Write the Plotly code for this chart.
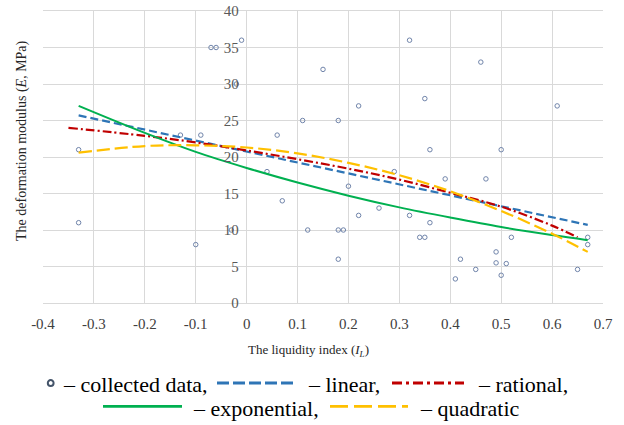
import plotly.graph_objects as go

# ---------------- data ----------------
data_il = [-0.33, -0.33, -0.13, -0.09, -0.10, -0.07, -0.06, -0.01, -0.02, -0.03,
           0.04, 0.06, 0.07, 0.11, 0.12, 0.15, 0.18, 0.18, 0.19, 0.18,
           0.20, 0.22, 0.22, 0.26, 0.29, 0.32, 0.32, 0.34, 0.35, 0.35,
           0.36, 0.36, 0.39, 0.41, 0.42, 0.45, 0.46, 0.47, 0.49, 0.49,
           0.50, 0.50, 0.51, 0.52, 0.61, 0.65, 0.67, 0.67]
data_e = [21, 11, 23, 23, 8, 35, 35, 36, 30, 10,
          18, 23, 14, 25, 10, 32, 25, 10, 10, 6,
          16, 27, 12, 13, 18, 36, 12, 9, 9, 28,
          21, 11, 17, 3.3, 6, 4.6, 33, 17, 7, 5.5,
          3.8, 21, 5.4, 9, 27, 4.6, 9, 8]

lin_x = [-0.33, 0.67]
lin_e = [25.7, 10.7]

rat_x = [-0.35, -0.2, -0.1, 0.0, 0.1, 0.2, 0.3, 0.4, 0.5, 0.6, 0.65]
rat_e = [24.0, 22.9, 22.0, 20.9, 19.7, 18.4, 16.9, 15.1, 13.2, 10.6, 9.0]

exp_x = [-0.33, -0.2, -0.1, 0.0, 0.1, 0.2, 0.3, 0.4, 0.5, 0.6, 0.67]
exp_e = [27.0, 23.3, 20.7, 18.5, 16.5, 14.7, 13.1, 11.7, 10.4, 9.3, 8.6]

quad_x = [-0.33, -0.2, -0.1, 0.0, 0.1, 0.2, 0.3, 0.4, 0.5, 0.6, 0.67]
quad_e = [20.6, 21.5, 21.6, 21.3, 20.5, 19.2, 17.5, 15.3, 12.6, 9.5, 7.0]

x_ticks = [-0.4, -0.3, -0.2, -0.1, 0.0, 0.1, 0.2, 0.3, 0.4, 0.5, 0.6, 0.7]
x_tick_text = ["-0.4", "-0.3", "-0.2", "-0.1", "0", "0.1", "0.2", "0.3", "0.4", "0.5", "0.6", "0.7"]
y_ticks = [0, 5, 10, 15, 20, 25, 30, 35, 40]

# ---------------- styles ----------------
BLUE = "#2E75B6"
RED = "#C00000"
GREEN = "#00B050"
YELLOW = "#FFC000"
MARK = "#7084AA"
GRID = "#D9D9D9"
SERIF = "Liberation Serif"

W, H = 624, 425
L, R, T, B = 43, 21, 11, 122
PW, PH = W - L - R, H - T - B


def px(x):
    return (x - L) / PW


def py(y):
    return (H - B - y) / PH


fig = go.Figure()
fig.add_trace(go.Scatter(x=data_il, y=data_e, mode="markers", name="collected data",
                         marker=dict(symbol="circle-open", size=4.5, color=MARK,
                                     line=dict(width=1, color=MARK))))
fig.add_trace(go.Scatter(x=lin_x, y=lin_e, mode="lines", name="linear",
                         line=dict(color=BLUE, width=2.2, dash="8px,4px")))
fig.add_trace(go.Scatter(x=rat_x, y=rat_e, mode="lines", name="rational",
                         line=dict(color=RED, width=2.2, dash="9px,3px,2px,3px",
                                   shape="spline", smoothing=1.0)))
fig.add_trace(go.Scatter(x=exp_x, y=exp_e, mode="lines", name="exponential",
                         line=dict(color=GREEN, width=2, shape="spline", smoothing=1.0)))
fig.add_trace(go.Scatter(x=quad_x, y=quad_e, mode="lines", name="quadratic",
                         line=dict(color=YELLOW, width=2.2, dash="13px,5px",
                                   shape="spline", smoothing=1.0)))

shapes = []
annotations = []

# axis titles
annotations.append(dict(xref="paper", yref="paper", x=px(308), y=py(350),
                        text="The liquidity index (<i>I</i><sub><i>L</i></sub>)",
                        showarrow=False, xanchor="center", yanchor="middle",
                        font=dict(family=SERIF, size=13, color="#262626")))
annotations.append(dict(xref="paper", yref="paper", x=px(22), y=py(141),
                        text="The deformation modulus (<i>E</i>, MPa)", textangle=-90,
                        showarrow=False, xanchor="center", yanchor="middle",
                        font=dict(family=SERIF, size=14, color="#262626")))

# manual legend
r1, r2 = 383, 406.3
shapes.append(dict(type="circle", xref="paper", yref="paper",
                   x0=px(47.8), x1=px(53.6), y0=py(r1 + 2.9), y1=py(r1 - 2.9),
                   line=dict(color="#44546A", width=2)))
leg_lines = [
    (217, 296, r1, BLUE, "12px,4px"),
    (392, 464, r1, RED, "10px,4px,3px,4px"),
    (103, 182, r2, GREEN, "solid"),
    (330, 408, r2, YELLOW, "18px,6px"),
]
for x0, x1, yy, col, dash in leg_lines:
    shapes.append(dict(type="line", xref="paper", yref="paper",
                       x0=px(x0), x1=px(x1), y0=py(yy), y1=py(yy),
                       line=dict(color=col, width=2.8, dash=dash)))
leg_texts = [
    (61, r1 + 1.5, "– collected data,"),
    (306, r1 + 1.5, "– linear,"),
    (476, r1 + 1.5, "– rational,"),
    (191, r2 + 2.2, "– exponential,"),
    (418, r2 + 2.2, "– quadratic"),
]
for xx, yy, txt in leg_texts:
    annotations.append(dict(xref="paper", yref="paper", x=px(xx), y=py(yy), text=txt,
                            showarrow=False, xanchor="left", yanchor="middle",
                            font=dict(family=SERIF, size=22, color="black")))

fig.update_layout(
    width=W, height=H,
    margin=dict(l=L, r=R, t=T, b=B, autoexpand=False),
    paper_bgcolor="white", plot_bgcolor="white",
    showlegend=False,
    xaxis=dict(range=[-0.4, 0.7], tickvals=x_ticks, ticktext=x_tick_text,
               showgrid=True, gridcolor=GRID, gridwidth=1,
               zeroline=True, zerolinecolor=GRID, zerolinewidth=1,
               showline=True, mirror=True, linecolor=GRID, linewidth=1,
               ticks="", ticklabelstandoff=7, automargin=False,
               tickfont=dict(family=SERIF, size=15, color="#404040")),
    yaxis=dict(range=[0, 40], tickvals=y_ticks, anchor="free", position=0.4 / 1.1,
               showgrid=True, gridcolor=GRID, gridwidth=1,
               zeroline=False, showline=False, ticks="", ticklabelstandoff=8,
               automargin=False,
               tickfont=dict(family=SERIF, size=15, color="#595959")),
    shapes=shapes,
    annotations=annotations,
)

fig.write_html("out.html")
